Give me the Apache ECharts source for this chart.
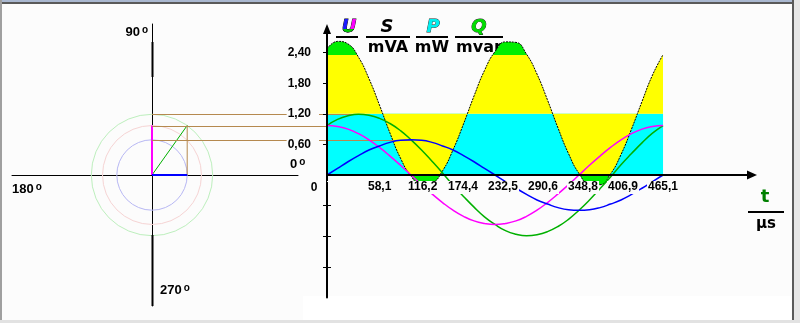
<!DOCTYPE html>
<html>
<head>
<meta charset="utf-8">
<title>U S P Q</title>
<script src="https://cdn.jsdelivr.net/npm/echarts@6/dist/echarts.min.js"></script>
<style>
html,body{margin:0;padding:0;background:#fcfcfc;}
#chart{width:800px;height:323px;}
</style>
</head>
<body>
<div id="chart"></div>
<script>
// ---- data ----
const timeUs = [0, 15.3, 30.5, 45.8, 61.0, 76.3, 91.6, 106.8, 122.1, 137.4, 152.6, 167.9, 183.1, 198.4, 213.7, 228.9, 244.2, 259.4, 274.7, 290.0, 305.2, 320.5, 335.8, 351.0, 366.3, 381.5, 396.8, 412.1, 427.3, 442.6, 457.8, 473.1, 488.4];
const uBlue = [0, 0.13, 0.26, 0.38, 0.49, 0.57, 0.64, 0.68, 0.69, 0.68, 0.64, 0.57, 0.49, 0.38, 0.26, 0.13, 0, -0.13, -0.26, -0.38, -0.49, -0.57, -0.64, -0.68, -0.69, -0.68, -0.64, -0.57, -0.49, -0.38, -0.26, -0.13, 0];
const uMagenta = [0.97, 0.95, 0.90, 0.81, 0.69, 0.54, 0.37, 0.19, 0, -0.19, -0.37, -0.54, -0.69, -0.81, -0.90, -0.95, -0.97, -0.95, -0.90, -0.81, -0.69, -0.54, -0.37, -0.19, 0, 0.19, 0.37, 0.54, 0.69, 0.81, 0.90, 0.95, 0.97];
const uGreen = [0.97, 1.09, 1.16, 1.19, 1.17, 1.11, 1.01, 0.87, 0.69, 0.49, 0.27, 0.04, -0.20, -0.42, -0.63, -0.82, -0.97, -1.09, -1.16, -1.19, -1.17, -1.11, -1.01, -0.87, -0.69, -0.49, -0.27, -0.04, 0.20, 0.42, 0.63, 0.82, 0.97];
const powerS = [2.47, 2.62, 2.57, 2.31, 1.89, 1.37, 0.82, 0.33, -0.02, -0.20, -0.16, 0.08, 0.49, 1.00, 1.55, 2.05, 2.42, 2.61, 2.60, 2.37, 1.98, 1.47, 0.92, 0.42, 0.03, -0.18, -0.19, 0.02, 0.40, 0.90, 1.44, 1.96, 2.36];
const activeP = [1.2];            // mean power level (cyan)
const capLevel = [2.35];          // level above which the peak is green
const phasorAmps = [0.69, 0.97, 1.19]; // blue, magenta, green phasor lengths
const xTickLabels = ['0', '58,1', '116,2', '174,4', '232,5', '290,6', '348,8', '406,9', '465,1'];
const yTickLabels = ['0,60', '1,20', '1,80', '2,40'];
const xStep = 58.1375;
const yStep = 0.6;

// ---- layout ----
const K = 51;          // px per unit (vertical and phasor)
const zeroY = 175;
const gA = {left: 12, top: 24, width: 286, height: 282};
const originAx = 152;
const gB = {left: 327, top: 29, width: 425};
gB.height = zeroY + 4 * yStep * K - gB.top;
const pxPerStep = 40;

const BG = '#fcfcfc';
const YELLOW = '#ffff00', CYAN = '#00ffff', LIME = '#00ee00';
const C_BLUE = '#0000ff', C_MAG = '#ff00ff', C_GREEN = '#00b000', BROWN = '#b5894f';
const circleColors = ['#b8b8f4', '#f6d4d4', '#bdefbd'];
const FONT = '"Liberation Sans", Arial, sans-serif';
const DV = '"DejaVu Sans", sans-serif';

const pts = arr => timeUs.map((t, i) => [t, arr[i]]);
const yTickVals = [];
for (let i = -3; i <= yTickLabels.length; i++) if (i !== 0) yTickVals.push(+(i * yStep).toFixed(2));
const yLabelVals = yTickLabels.map((s, i) => +((i + 1) * yStep).toFixed(2));
const xLabelVals = xTickLabels.map((s, i) => i * xStep);

const chart = echarts.init(document.getElementById('chart'), null, {renderer: 'canvas'});

const LET = 'italic bold 18px "DejaVu Sans", sans-serif';
// multicoloured "U" built from three clipped copies of the same letter
function renderU(params, api) {
  const cx = 349, cy = 27;
  const base = {text: 'U', font: LET, align: 'center', verticalAlign: 'middle', stroke: '#000', lineWidth: 0.8};
  const mk = (fill, clip) => ({type: 'group', clipPath: {type: 'rect', shape: clip},
    children: [{type: 'text', x: cx, y: cy, style: Object.assign({}, base, {fill: fill})}]});
  return {type: 'group', children: [
    mk('#1a1aff', {x: cx - 15, y: cy - 15, width: 15, height: 30}),
    mk('#ff00ff', {x: cx, y: cy - 15, width: 15, height: 30}),
    mk('#00cc00', {x: cx - 15, y: cy + 2, width: 30, height: 15})
  ]};
}

const option = {
  animation: false,
  backgroundColor: BG,
  grid: [
    Object.assign({outerBoundsMode: 'none', containLabel: false}, gA),
    Object.assign({outerBoundsMode: 'none', containLabel: false}, gB)
  ],
  xAxis: [
    {gridIndex: 0, type: 'value', min: -(originAx - gA.left) / K, max: (gA.left + gA.width - originAx) / K,
     axisLine: {onZero: true, lineStyle: {color: '#000', width: 1}}, axisTick: {show: false},
     axisLabel: {show: false}, splitLine: {show: false}},
    {gridIndex: 1, type: 'value', min: 0, max: gB.width * xStep / pxPerStep, z: 10,
     position: 'bottom', offset: -(gB.top + gB.height - zeroY),
     axisLine: {onZero: false, symbol: ['none', 'triangle'], symbolSize: [9, 10], lineStyle: {color: '#000', width: 2}},
     axisTick: {show: false}, splitLine: {show: false},
     axisLabel: {customValues: xLabelVals, align: 'left', margin: 6, padding: [0, 1, 1, 1],
       backgroundColor: BG, color: '#000', fontFamily: FONT, fontWeight: 'bold', fontSize: 12,
       formatter: v => { const i = Math.round(v / xStep); return (i >= 1 && i < xTickLabels.length) ? xTickLabels[i] : ''; }}}
  ],
  yAxis: [
    {gridIndex: 0, type: 'value', min: -(gA.top + gA.height - zeroY) / K, max: (zeroY - gA.top) / K,
     axisLine: {onZero: true, lineStyle: {color: '#000', width: 1}}, axisTick: {show: false},
     axisLabel: {show: false}, splitLine: {show: false}},
    {gridIndex: 1, type: 'value', position: 'left', min: -4 * yStep, max: (zeroY - gB.top) / K, z: 10,
     axisLine: {onZero: false, symbol: ['none', 'triangle'], symbolSize: [8, 10], lineStyle: {color: '#000', width: 2}},
     axisTick: {customValues: yTickVals, length: 4, lineStyle: {color: '#000', width: 1}},
     splitLine: {show: false},
     axisLabel: {customValues: yLabelVals, margin: 8, padding: [1, 8, 1, 1], backgroundColor: BG,
       color: '#000', fontFamily: FONT, fontWeight: 'bold', fontSize: 12,
       formatter: v => { const i = Math.round(v / yStep); return (i >= 1 && i <= yTickLabels.length) ? yTickLabels[i - 1] : ''; }}},
    {gridIndex: 1, type: 'value', position: 'left', offset: 0, min: -4 * yStep, max: (zeroY - gB.top) / K, z: 1,
     axisLine: {show: false, onZero: false}, axisLabel: {show: false}, splitLine: {show: false},
     axisTick: {customValues: yTickVals, inside: true, length: 4, lineStyle: {color: '#000', width: 1}}}
  ],
  visualMap: {
    type: 'piecewise', show: false, seriesIndex: 6, dimension: 1,
    pieces: [{lt: 0, color: LIME}, {gte: 0, lte: capLevel[0], color: YELLOW}, {gt: capLevel[0], color: LIME}]
  },
  series: [
    {type: 'custom', xAxisIndex: 0, yAxisIndex: 0, silent: true, z: 1,
     data: phasorAmps.map((a, i) => [0, 0, a, i]),
     renderItem: (params, api) => {
       const c = api.coord([0, 0]);
       const r = api.size([api.value(2), 0])[0];
       return {type: 'circle', shape: {cx: c[0], cy: c[1], r: r},
               style: {fill: 'none', stroke: circleColors[api.value(3)], lineWidth: 1}};
     }},
    {type: 'line', xAxisIndex: 0, yAxisIndex: 0, showSymbol: false, silent: true, z: 2,
     data: [[phasorAmps[0], 0], [phasorAmps[0], phasorAmps[1]]], lineStyle: {color: BROWN, width: 1}},
    {type: 'line', xAxisIndex: 0, yAxisIndex: 0, showSymbol: false, silent: true, z: 3,
     data: [[0, 0], [phasorAmps[0], phasorAmps[1]]], lineStyle: {color: C_GREEN, width: 1}},
    {type: 'line', xAxisIndex: 0, yAxisIndex: 0, showSymbol: false, silent: true, z: 3,
     data: [[0, 0], [0, phasorAmps[1]]], lineStyle: {color: C_MAG, width: 2}},
    {type: 'line', xAxisIndex: 0, yAxisIndex: 0, showSymbol: false, silent: true, z: 3,
     data: [[0, 0], [phasorAmps[0], 0]], lineStyle: {color: C_BLUE, width: 2}},
    // cyan mean power band
    {type: 'line', xAxisIndex: 1, yAxisIndex: 1, showSymbol: false, silent: true, z: 2,
     data: [[timeUs[0], activeP[0]], [timeUs[timeUs.length - 1], activeP[0]]],
     lineStyle: {opacity: 0}, areaStyle: {color: CYAN, opacity: 1, origin: 0}},
    // oscillating power part (yellow / green via visualMap)
    {type: 'line', xAxisIndex: 1, yAxisIndex: 1, showSymbol: false, silent: true, z: 2, smooth: true,
     data: pts(powerS), lineStyle: {opacity: 0, width: 0}, areaStyle: {opacity: 1, origin: activeP[0]}},
    // black power curve
    {type: 'line', xAxisIndex: 1, yAxisIndex: 1, showSymbol: false, silent: true, z: 3, smooth: true,
     data: pts(powerS), lineStyle: {color: '#000', width: 1, type: [2, 1]}},
    {type: 'line', xAxisIndex: 1, yAxisIndex: 1, showSymbol: false, silent: true, z: 5, smooth: true,
     data: pts(uGreen), lineStyle: {color: C_GREEN, width: 1.5}},
    {type: 'line', xAxisIndex: 1, yAxisIndex: 1, showSymbol: false, silent: true, z: 5, smooth: true,
     data: pts(uMagenta), lineStyle: {color: C_MAG, width: 1.5}},
    {type: 'line', xAxisIndex: 1, yAxisIndex: 1, showSymbol: false, silent: true, z: 5, smooth: true,
     data: pts(uBlue), lineStyle: {color: C_BLUE, width: 1.5}},
    // header letter U
    {type: 'custom', coordinateSystem: 'none', silent: true, z: 1, data: [[0]], renderItem: renderU}
  ]
};
chart.setOption(option);

// ---- overlay graphics ----
const a2p = (x, y) => chart.convertToPixel({xAxisIndex: 0, yAxisIndex: 0}, [x, y]);
const b2p = (x, y) => chart.convertToPixel({xAxisIndex: 1, yAxisIndex: 1}, [x, y]);
const argMax = arr => arr.indexOf(Math.max.apply(null, arr));
const crisp = v => Math.round(v) + 0.5;
function hLine(p1, p2) {
  const y = crisp(p1[1]);
  return {type: 'line', z: 4, silent: true, shape: {x1: p1[0], y1: y, x2: p2[0], y2: y}, style: {stroke: BROWN, lineWidth: 1}};
}
const gi = argMax(uGreen), bi = argMax(uBlue);
const degRich = {
  n: {font: 'bold 13px ' + FONT, fill: '#000'},
  d: {font: 'bold 10px ' + FONT, fill: '#000', verticalAlign: 'top', padding: [0, 0, 0, 2]}
};
function degText(lbl, x, y, align) {
  return {type: 'text', x: x, y: y, z: 6, silent: true,
          style: {text: '{n|' + lbl + '}{d|o}', rich: degRich, align: align, verticalAlign: 'middle'}};
}
function txt(s, x, y, font, fill, extra) {
  return {type: 'text', x: x, y: y, z: 1, silent: true,
          style: Object.assign({text: s, font: font, fill: fill, align: 'center', verticalAlign: 'middle'}, extra || {})};
}
function rect(x, y, w, h, fill, z) {
  return {type: 'rect', z: z == null ? 1 : z, silent: true, shape: {x: x, y: y, width: w, height: h}, style: {fill: fill}};
}
const UNIT = 'bold 16px ' + DV;
const axX = Math.round(a2p(0, 0)[0]);

const graphics = [
  rect(303, 296, 488, 24, '#ffffff', -1),
  // heavier stretches of the phasor vertical axis
  rect(axX - 0.5, 42, 2, 35, '#000', 1),
  rect(axX - 0.5, 235, 2, 71, '#000', 1),
  // brown projection lines
  hLine(a2p(0, phasorAmps[2]), b2p(timeUs[gi], phasorAmps[2])),
  hLine(a2p(0, phasorAmps[1]), b2p(timeUs[0], uMagenta[0])),
  hLine(a2p(0, phasorAmps[0]), b2p(timeUs[bi], phasorAmps[0])),
  // angle labels
  degText('90', 148, 32, 'right'),
  degText('180', 12, 189, 'left'),
  degText('270', 160, 290, 'left'),
  degText('0', 290, 164, 'left'),
  txt('0', 314, 188, 'bold 12px ' + FONT, '#000'),
  // header
  txt('S', 387, 27, LET, '#000'),
  txt('P', 433, 27, LET, '#00f0f0', {stroke: '#222', lineWidth: 0.8}),
  txt('Q', 479, 27, LET, '#00dd00', {stroke: '#222', lineWidth: 0.8}),
  rect(336, 36, 22, 2, '#000'),
  rect(366, 36, 44, 2, '#000'),
  rect(416, 36, 32, 2, '#000'),
  rect(455, 36, 48, 2, '#000'),
  txt('mVA', 388, 48, UNIT, '#000'),
  txt('mW', 432, 48, UNIT, '#000'),
  txt('mvar', 479, 48, UNIT, '#000'),
  // time unit
  txt('t', 765, 197, 'bold 18px ' + DV, '#008000'),
  rect(748, 211, 36, 2, '#000'),
  txt('\u00b5s', 766, 224, 'bold 15px ' + DV, '#000'),
  // frame
  rect(0, 0, 800, 2, '#aab8d0', 20),
  rect(0, 2, 800, 2, '#5a5a5a', 20),
  rect(0, 0, 2, 323, '#a0a0a0', 20),
  rect(792, 0, 2, 323, '#5a5a5a', 20),
  rect(794, 0, 6, 323, '#e6e6e6', 20),
  rect(0, 320, 800, 3, '#e2e2e2', 20)
];
chart.setOption({graphic: graphics});
</script>
</body>
</html>
